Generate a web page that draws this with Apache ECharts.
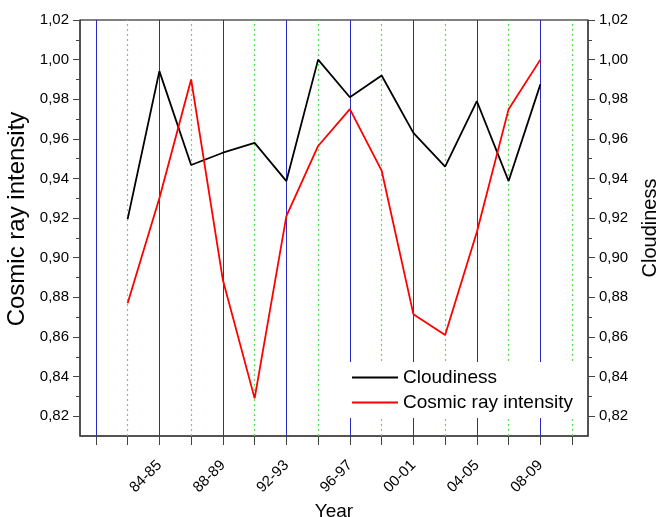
<!DOCTYPE html>
<html>
<head>
<meta charset="utf-8">
<script src="https://cdn.jsdelivr.net/npm/echarts@6/dist/echarts.min.js"></script>
<style>
html,body{margin:0;padding:0;background:#fff;}
#chart{width:657px;height:517px;}
</style>
</head>
<body>
<div id="chart"></div>
<script>
const categories = ['80-81','82-83','84-85','86-87','88-89','90-91','92-93','94-95','96-97','98-99','00-01','02-03','04-05','06-07','08-09','10-11'];
const cloudiness = [null, 0.9195, 0.9942, 0.9468, 0.953, 0.958, 0.9387, 1.000, 0.981, 0.992, 0.963, 0.946, 0.979, 0.9387, 0.9875, null];
const cosmicRay = [null, 0.877, 0.930, 0.990, 0.8887, 0.829, 0.921, 0.9564, 0.975, 0.944, 0.8715, 0.861, 0.913, 0.975, 1.000, null];
const yMajorTicks = [0.82, 0.84, 0.86, 0.88, 0.90, 0.92, 0.94, 0.96, 0.98, 1.00, 1.02];
const yMinorTicks = [0.83, 0.85, 0.87, 0.89, 0.91, 0.93, 0.95, 0.97, 0.99, 1.01];
const yMin = 0.81, yMax = 1.02;

const FONT = '"Liberation Sans", Arial, sans-serif';
const axisColor = '#444';
const fmt = v => v.toFixed(2).replace('.', ',');

function majorAxis(pos, name, nameGap, nameSize, namePadding) {
  return {
    type: 'value', min: yMin, max: yMax, position: pos,
    name: name, nameLocation: 'middle', nameGap: nameGap, nameRotate: 90,
    nameTextStyle: {fontFamily: FONT, fontSize: nameSize, color: '#000', padding: namePadding},
    axisLine: {show: true, lineStyle: {color: axisColor, width: 1.5}},
    axisTick: {show: true, customValues: yMajorTicks, length: 7, lineStyle: {color: axisColor, width: 1}},
    axisLabel: {show: true, customValues: yMajorTicks, formatter: fmt, margin: 11,
      fontFamily: FONT, fontSize: 15, color: '#000'},
    splitLine: {show: false}
  };
}
function minorAxis(pos) {
  return {
    type: 'value', min: yMin, max: yMax, position: pos,
    axisLine: {show: false},
    axisTick: {show: true, customValues: yMinorTicks, length: 4, lineStyle: {color: axisColor, width: 1}},
    axisLabel: {show: false},
    splitLine: {show: false}
  };
}

const blueLines = categories.filter((c, i) => i % 2 === 0).map(c => ({xAxis: c}));
const greenLines = categories.filter((c, i) => i % 2 === 1).map(c => ({xAxis: c}));

const chart = echarts.init(document.getElementById('chart'), null, {renderer: 'canvas'});
chart.setOption({
  animation: false,
  backgroundColor: '#fff',
  grid: {left: 80, right: 69, top: 20, bottom: 81, outerBoundsMode: 'none', containLabel: false,
    show: true, borderColor: '#000', borderWidth: 1, backgroundColor: 'transparent'},
  legend: {
    data: ['Cloudiness', 'Cosmic ray intensity'],
    orient: 'vertical', left: 342, top: 362,
    padding: [6, 6, 6, 10], itemGap: 6, itemWidth: 46, itemHeight: 2, icon: 'rect',
    backgroundColor: '#fff', z: 10,
    textStyle: {fontFamily: FONT, fontSize: 19, color: '#000'}
  },
  xAxis: {
    type: 'category', data: categories, boundaryGap: true,
    name: 'Year', nameLocation: 'middle', nameGap: 64,
    nameTextStyle: {fontFamily: FONT, fontSize: 19, color: '#000'},
    axisLine: {show: true, lineStyle: {color: axisColor, width: 1.5}},
    axisTick: {show: true, alignWithLabel: true, interval: 0, length: 9, lineStyle: {color: axisColor}},
    axisLabel: {interval: (i) => i % 2 === 0 && i >= 2 && i <= 14, rotate: 45, margin: 27,
      fontFamily: FONT, fontSize: 15, color: '#000'},
    splitLine: {show: false}
  },
  yAxis: [
    majorAxis('left', 'Cosmic ray intensity', 41, 24, [0, 0, 0, 18]),
    majorAxis('right', 'Cloudiness', 52, 20, 0),
    minorAxis('left'),
    minorAxis('right')
  ],
  series: [
    {
      name: 'Cloudiness', type: 'line', yAxisIndex: 1, data: cloudiness,
      symbol: 'none', color: '#000', z: 3,
      lineStyle: {color: '#000', width: 1.8},
      markLine: {
        z: 1, silent: true, symbol: ['none', 'none'], animation: false,
        label: {show: false}, emphasis: {disabled: true},
        lineStyle: {color: '#2a2ac8', width: 1, type: 'solid'},
        data: blueLines
      }
    },
    {
      name: 'Cosmic ray intensity', type: 'line', yAxisIndex: 0, data: cosmicRay,
      symbol: 'none', color: '#ff0000', z: 3,
      lineStyle: {color: '#ff0000', width: 1.8},
      markLine: {
        z: 1, silent: true, symbol: ['none', 'none'], animation: false,
        label: {show: false}, emphasis: {disabled: true},
        lineStyle: {color: '#55e055', width: 1.2, type: [2, 3]},
        data: greenLines
      }
    }
  ]
});
</script>
</body>
</html>
